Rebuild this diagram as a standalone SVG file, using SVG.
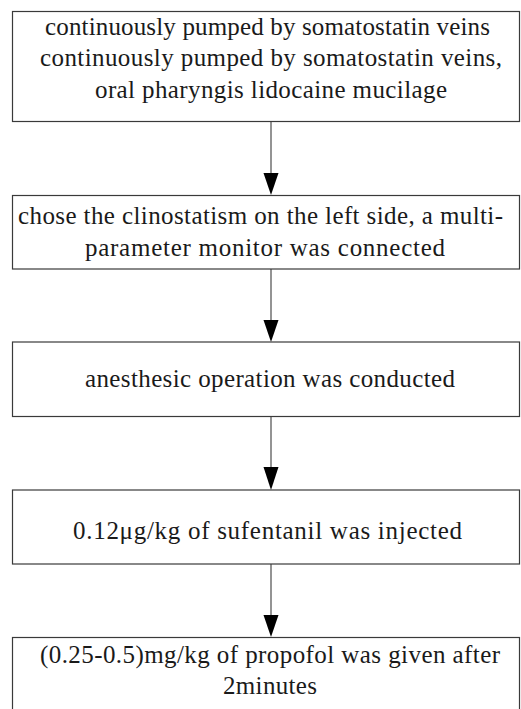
<svg xmlns="http://www.w3.org/2000/svg" width="521" height="709" viewBox="0 0 521 709">
<style>
.box{fill:#fff;stroke:#3a3a3a;stroke-width:1.2}
.t{font-family:"Liberation Serif","Times New Roman",serif;font-size:25px;fill:#1a1a1a;text-anchor:middle}
.c{stroke:#707070;stroke-width:1.5;fill:none}
.ah{fill:#000}
</style>
<rect width="521" height="709" fill="#fff"/>
<g id="connectors">
<line class="c" x1="271" y1="122" x2="271" y2="174"/>
<path class="ah" d="M263.5,173 L278.5,173 L271,195 Z"/>
<line class="c" x1="271" y1="269" x2="271" y2="321"/>
<path class="ah" d="M263.5,320 L278.5,320 L271,342 Z"/>
<line class="c" x1="271" y1="417" x2="271" y2="468"/>
<path class="ah" d="M263.5,467 L278.5,467 L271,490 Z"/>
<line class="c" x1="271" y1="564" x2="271" y2="616"/>
<path class="ah" d="M263.5,615 L278.5,615 L271,637 Z"/>
</g>
<g id="n1">
<rect class="box" x="12.5" y="11.5" width="507" height="110"/>
<text class="t" x="267.5" y="35" textLength="445">continuously pumped by somatostatin veins</text>
<text class="t" x="271" y="66" textLength="462">continuously pumped by somatostatin veins,</text>
<text class="t" x="271" y="98" textLength="352">oral pharyngis lidocaine mucilage</text>
</g>
<g id="n2">
<rect class="box" x="12.5" y="195.5" width="507" height="73.5"/>
<text class="t" x="260.5" y="224" textLength="485">chose the clinostatism on the left side, a multi-</text>
<text class="t" x="265" y="256" textLength="360">parameter monitor was connected</text>
</g>
<g id="n3">
<rect class="box" x="12.5" y="342" width="507" height="74.5"/>
<text class="t" x="270" y="387" textLength="370">anesthesic operation was conducted</text>
</g>
<g id="n4">
<rect class="box" x="12.5" y="490" width="507" height="74"/>
<text class="t" x="267.5" y="539" textLength="389">0.12μg/kg of sufentanil was injected</text>
</g>
<g id="n5">
<rect class="box" x="12.5" y="637.5" width="507" height="76"/>
<text class="t" x="270" y="663" textLength="460">(0.25-0.5)mg/kg of propofol was given after</text>
<text class="t" x="270" y="694" textLength="94">2minutes</text>
</g>
</svg>
